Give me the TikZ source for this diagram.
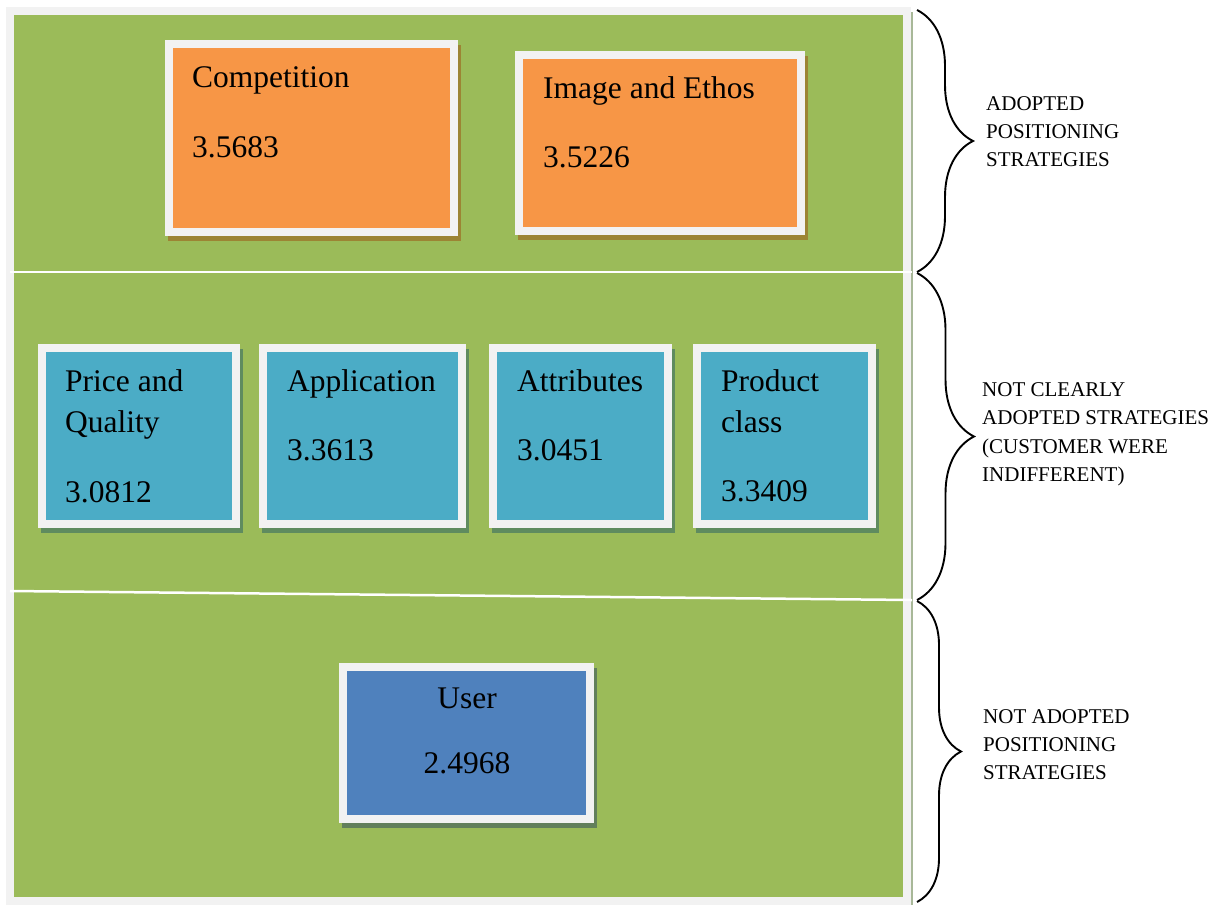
\documentclass[tikz,border=0pt]{standalone}
\usepackage{fontspec}
\setmainfont{Liberation Serif}
\newfontfamily\tnr{Liberation Serif}
\usetikzlibrary{decorations.pathreplacing}
\definecolor{bggreen}{HTML}{9BBB59}
\definecolor{framegray}{HTML}{F2F2F2}
\definecolor{orangebox}{HTML}{F79646}
\definecolor{tealbox}{HTML}{4BACC6}
\definecolor{bluebox}{HTML}{4F81BD}
\definecolor{oshadow}{HTML}{9C8434}
\definecolor{tshadow}{HTML}{5F8B5F}
\definecolor{bshadow}{HTML}{627F5C}
\definecolor{edgeline}{HTML}{A8B898}
\begin{document}
\begin{tikzpicture}[x=1pt,y=-1pt,
  panel/.style={rectangle, draw=framegray, line width=8pt, inner sep=0pt, outer sep=0pt, anchor=north west},
  boxtext/.style={anchor=base west, inner sep=0pt, font=\tnr\fontsize{31.5}{38}\selectfont},
  boxtextc/.style={anchor=base, inner sep=0pt, font=\tnr\fontsize{31.5}{38}\selectfont},
  bracelabel/.style={anchor=base west, inner sep=0pt, font=\tnr\fontsize{21}{26}\selectfont},
  bracedeco/.style={decorate, decoration={brace, amplitude=#1}, line width=1.9pt, black},
]
\useasboundingbox (0,0) rectangle (1222,905);
\fill[white] (0,0) rectangle (1222,905);
% background panels
\fill[framegray] (6,7) rectangle (911,905);
\fill[bggreen] (14,15) rectangle (903,897);
\draw[edgeline, line width=2.5pt] (912,12) -- (912,905);
\coordinate (l1a) at (10,272);
\coordinate (l1b) at (912,272);
\coordinate (l2a) at (10,591);
\coordinate (l2b) at (912,600);
\draw[white, line width=2pt] (l1a) -- (l1b);
\draw[white, line width=2.5pt] (l2a) -- (l2b);

% shadows
\fill[oshadow] (168,45) rectangle (461,241);
\fill[oshadow] (518,56) rectangle (808,240);
\fill[tshadow] (41,349) rectangle (243,533);
\fill[tshadow] (262,349) rectangle (469,533);
\fill[tshadow] (492,349) rectangle (675,533);
\fill[tshadow] (696,349) rectangle (879,533);
\fill[bshadow] (342,668) rectangle (597,828);

% boxes
\node[panel, fill=orangebox, minimum width=285pt, minimum height=188pt] (comp) at (169,44) {};
\node[panel, fill=orangebox, minimum width=282pt, minimum height=176pt] (image) at (519,55) {};
\node[panel, fill=tealbox, minimum width=194pt, minimum height=176pt] (price) at (42,348) {};
\node[panel, fill=tealbox, minimum width=199pt, minimum height=176pt] (appl) at (263,348) {};
\node[panel, fill=tealbox, minimum width=175pt, minimum height=176pt] (attr) at (493,348) {};
\node[panel, fill=tealbox, minimum width=175pt, minimum height=176pt] (prod) at (697,348) {};
\node[panel, fill=bluebox, minimum width=247pt, minimum height=152pt] (user) at (343,667) {};

% texts
\node[boxtext] (compT) at (192,87) {Competition};
\node[boxtext] (compV) at (192,157) {3.5683};
\node[boxtext] (imageT) at (543,98) {Image and Ethos};
\node[boxtext] (imageV) at (543,167) {3.5226};
\node[boxtext] (priceT1) at (65,391) {Price and};
\node[boxtext] (priceT2) at (65,432) {Quality};
\node[boxtext] (priceV) at (65,502) {3.0812};
\node[boxtext] (applT) at (287,391) {Application};
\node[boxtext] (applV) at (287,460) {3.3613};
\node[boxtext] (attrT) at (517,391) {Attributes};
\node[boxtext] (attrV) at (517,460) {3.0451};
\node[boxtext] (prodT1) at (721,391) {Product};
\node[boxtext] (prodT2) at (721,432) {class};
\node[boxtext] (prodV) at (721,501) {3.3409};
\node[boxtextc] (userT) at (467,708) {User};
\node[boxtextc] (userV) at (467,773) {2.4968};

% braces
\coordinate (b1s) at (917,10);
\coordinate (b1e) at (917,272);
\coordinate (b2s) at (917,273);
\coordinate (b2e) at (917,600);
\coordinate (b3s) at (917,601);
\coordinate (b3e) at (917,902);
\draw[bracedeco=56pt] (b1s) -- (b1e);
\draw[bracedeco=57pt] (b2s) -- (b2e);
\draw[bracedeco=44pt] (b3s) -- (b3e);

% brace labels
\node[bracelabel] (t1a) at (986,110) {ADOPTED};
\node[bracelabel] (t1b) at (986,138) {POSITIONING};
\node[bracelabel] (t1c) at (986,166) {STRATEGIES};
\node[bracelabel] (t2a) at (982,396) {NOT CLEARLY};
\node[bracelabel] (t2b) at (982,424) {ADOPTED STRATEGIES};
\node[bracelabel] (t2c) at (982,453) {(CUSTOMER WERE};
\node[bracelabel] (t2d) at (982,481) {INDIFFERENT)};
\node[bracelabel] (t3a) at (983,723) {NOT ADOPTED};
\node[bracelabel] (t3b) at (983,751) {POSITIONING};
\node[bracelabel] (t3c) at (983,779) {STRATEGIES};
\end{tikzpicture}
\end{document}
